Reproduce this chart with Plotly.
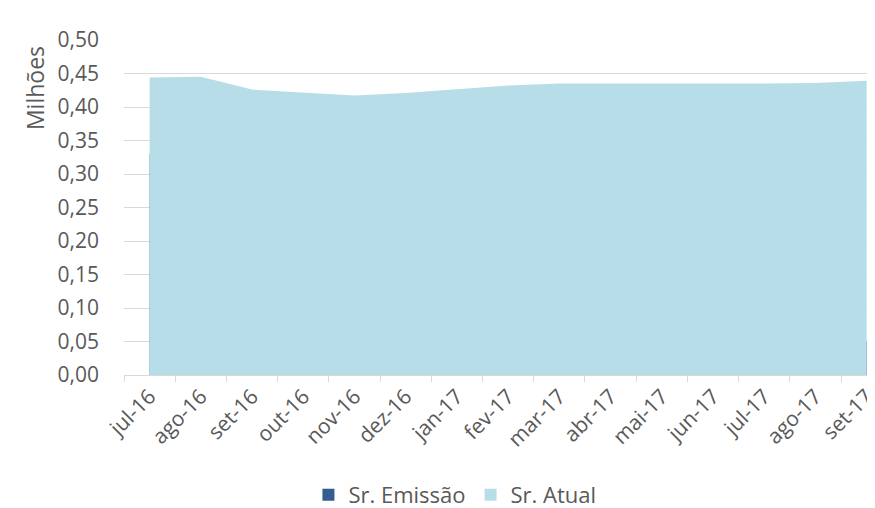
"""Sr. Emissão x Sr. Atual - área mensal"""

import plotly.graph_objects as go

MESES = ["jul-16", "ago-16", "set-16", "out-16", "nov-16", "dez-16", "jan-17",
         "fev-17", "mar-17", "abr-17", "mai-17", "jun-17", "jul-17", "ago-17", "set-17"]

# valores em milhões
SR_EMISSAO = [0.33, 0.32, 0.30, 0.27, 0.25, 0.24, 0.21, 0.19, 0.17, 0.15, 0.12, 0.10, 0.08, 0.06, 0.05]
SR_ATUAL = [0.444, 0.445, 0.426, 0.421, 0.417, 0.421, 0.427, 0.432, 0.435, 0.435, 0.434, 0.434, 0.435, 0.436, 0.439]

COR_EMISSAO = "#335E8F"
COR_ATUAL = "#B7DDE8"
COR_TEXTO = "#595959"
COR_GRADE = "#D9D9D9"

_FONT = dict(family="Open Sans, sans-serif", size=20, color=COR_TEXTO)

fig = go.Figure()

# Emissão fica atrás da área atual
fig.add_trace(go.Scatter(
    x=MESES, y=SR_EMISSAO, name="Sr. Emissão",
    mode="lines", line=dict(width=0, color=COR_EMISSAO),
    fill="tozeroy", fillcolor=COR_EMISSAO, showlegend=False,
))
fig.add_trace(go.Scatter(
    x=MESES, y=SR_ATUAL, name="Sr. Atual",
    mode="lines", line=dict(width=0, color=COR_ATUAL),
    fill="tozeroy", fillcolor=COR_ATUAL, showlegend=False,
))

# quadrados da legenda
for nome, cor in (("Sr. Emissão", COR_EMISSAO), ("Sr. Atual", COR_ATUAL)):
    fig.add_trace(go.Bar(x=[None], y=[None], name=nome, marker_color=cor, marker_line_width=0))

# título do eixo y fica no alto, como no Excel
fig.add_annotation(
    text="Milhões", textangle=-90,
    xref="paper", yref="paper", x=-0.117, y=0.857,
    xanchor="center", yanchor="middle", showarrow=False,
    font=dict(size=23, color=COR_TEXTO),
)

fig.update_layout(
    width=875, height=508,
    font=_FONT,
    separators=",.",
    plot_bgcolor="white",
    paper_bgcolor="white",
    # página tem margem de 8px no body
    margin=dict(t=32, b=141, l=116, r=0),
    xaxis=dict(
        type="category",
        categoryorder="array", categoryarray=MESES,
        range=[-0.5, 14.32],
        automargin=False,
        showgrid=False,
        showline=True, linecolor=COR_GRADE, linewidth=1,
        ticks="outside", tickson="boundaries", ticklen=6, tickcolor=COR_GRADE,
        tickangle=-45,
        tickfont=dict(size=21, color=COR_TEXTO),
    ),
    yaxis=dict(
        range=[0, 0.5],
        dtick=0.05,
        tickformat=".2f",
        automargin=False,
        showgrid=True, gridcolor=COR_GRADE, gridwidth=1,
        zeroline=False, showline=False,
        tickfont=dict(size=21, color=COR_TEXTO),
        ticklabelstandoff=24,
    ),
    legend=dict(
        orientation="h",
        x=0.436, xanchor="center",
        y=-0.358, yanchor="middle",
        font=dict(size=22, color=COR_TEXTO),
        bgcolor="rgba(0,0,0,0)",
    ),
)

fig.write_html("out.html")
